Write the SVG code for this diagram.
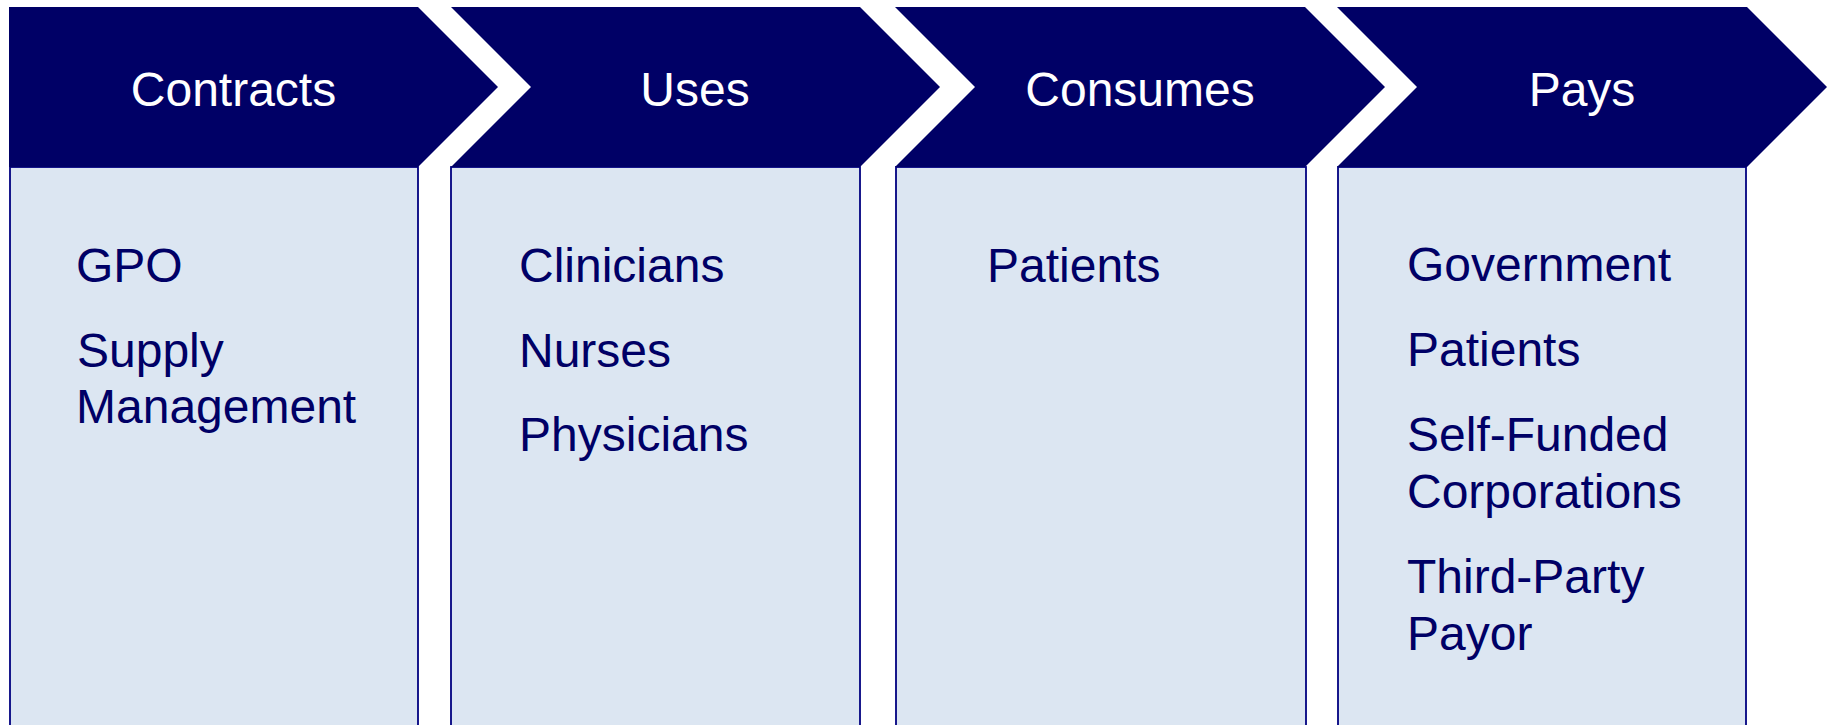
<svg xmlns="http://www.w3.org/2000/svg" width="1833" height="725" viewBox="0 0 1833 725">
  <style>
    .chev { fill: #000066; }
    .box { fill: #dce6f2; stroke: #000080; stroke-width: 1.8; }
    .hdr { font-family: "Liberation Sans", Arial, sans-serif; font-size: 48px; fill: #ffffff; text-anchor: middle; }
    .item { font-family: "Liberation Sans", Arial, sans-serif; font-size: 48px; fill: #000066; }
  </style>
  <rect x="0" y="0" width="1833" height="725" fill="#ffffff"/>
  <g id="col-contracts">
    <rect class="box" x="10" y="167" width="408" height="580"/>
    <path class="chev" d="M9,7 L418,7 L498,87 L418,167 L9,167 Z"/>
    <text class="hdr" x="233.5" y="106">Contracts</text>
    <text class="item" x="76" y="282">GPO</text>
    <text class="item" x="77" y="367">Supply</text>
    <text class="item" x="76" y="423">Management</text>
  </g>
  <g id="col-uses">
    <rect class="box" x="451" y="167" width="409" height="580"/>
    <path class="chev" d="M451,7 L860,7 L940,87 L860,167 L451,167 L531,87 Z"/>
    <text class="hdr" x="695" y="106">Uses</text>
    <text class="item" x="519" y="282">Clinicians</text>
    <text class="item" x="519" y="367">Nurses</text>
    <text class="item" x="519" y="451">Physicians</text>
  </g>
  <g id="col-consumes">
    <rect class="box" x="896" y="167" width="410" height="580"/>
    <path class="chev" d="M895,7 L1305,7 L1385,87 L1305,167 L895,167 L975,87 Z"/>
    <text class="hdr" x="1140" y="106">Consumes</text>
    <text class="item" x="987" y="282">Patients</text>
  </g>
  <g id="col-pays">
    <rect class="box" x="1338" y="167" width="408" height="580"/>
    <path class="chev" d="M1337,7 L1747,7 L1827,87 L1747,167 L1337,167 L1417,87 Z"/>
    <text class="hdr" x="1582" y="106">Pays</text>
    <text class="item" x="1407" y="281">Government</text>
    <text class="item" x="1407" y="366">Patients</text>
    <text class="item" x="1407" y="451">Self-Funded</text>
    <text class="item" x="1407" y="508">Corporations</text>
    <text class="item" x="1407" y="593">Third-Party</text>
    <text class="item" x="1407" y="650">Payor</text>
  </g>
  <g id="connectors"/>
</svg>
